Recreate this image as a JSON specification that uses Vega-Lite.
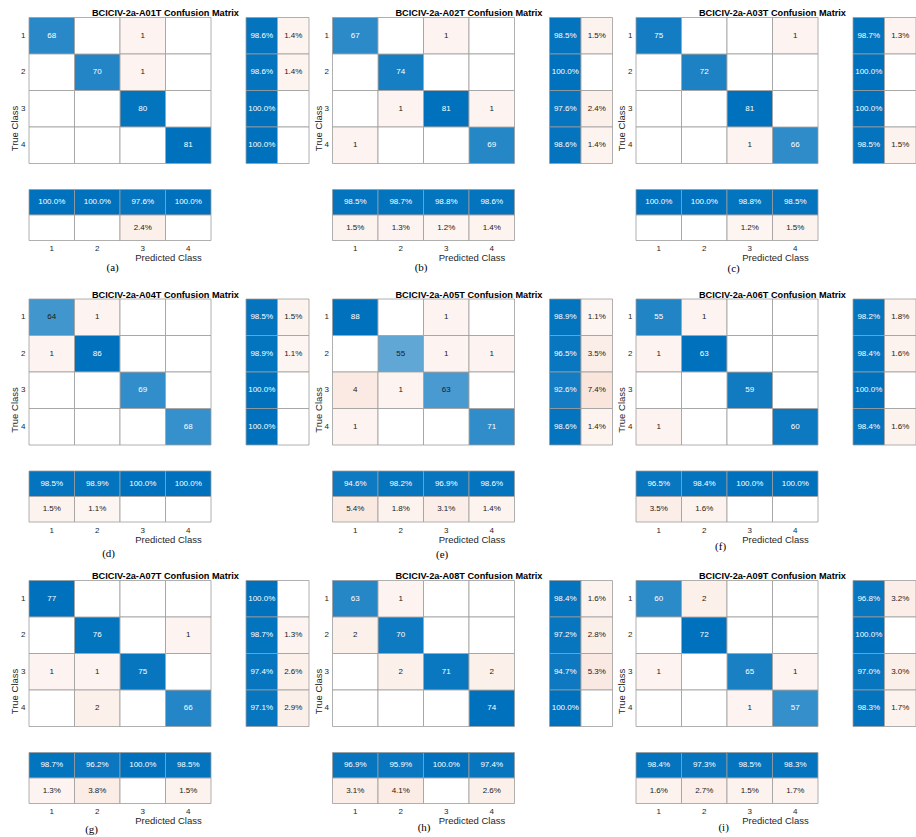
{
"$schema": "https://vega.github.io/schema/vega-lite/v6.json",
"padding": {"left": 9, "top": 8.5, "right": 0, "bottom": 0},
"background": "#ffffff",
"datasets": {
"cm": [
{"s":"A01T","t":1,"c":1,"n":68},{"s":"A01T","t":1,"c":2,"n":0},{"s":"A01T","t":1,"c":3,"n":1},{"s":"A01T","t":1,"c":4,"n":0},
{"s":"A01T","t":2,"c":1,"n":0},{"s":"A01T","t":2,"c":2,"n":70},{"s":"A01T","t":2,"c":3,"n":1},{"s":"A01T","t":2,"c":4,"n":0},
{"s":"A01T","t":3,"c":1,"n":0},{"s":"A01T","t":3,"c":2,"n":0},{"s":"A01T","t":3,"c":3,"n":80},{"s":"A01T","t":3,"c":4,"n":0},
{"s":"A01T","t":4,"c":1,"n":0},{"s":"A01T","t":4,"c":2,"n":0},{"s":"A01T","t":4,"c":3,"n":0},{"s":"A01T","t":4,"c":4,"n":81},
{"s":"A02T","t":1,"c":1,"n":67},{"s":"A02T","t":1,"c":2,"n":0},{"s":"A02T","t":1,"c":3,"n":1},{"s":"A02T","t":1,"c":4,"n":0},
{"s":"A02T","t":2,"c":1,"n":0},{"s":"A02T","t":2,"c":2,"n":74},{"s":"A02T","t":2,"c":3,"n":0},{"s":"A02T","t":2,"c":4,"n":0},
{"s":"A02T","t":3,"c":1,"n":0},{"s":"A02T","t":3,"c":2,"n":1},{"s":"A02T","t":3,"c":3,"n":81},{"s":"A02T","t":3,"c":4,"n":1},
{"s":"A02T","t":4,"c":1,"n":1},{"s":"A02T","t":4,"c":2,"n":0},{"s":"A02T","t":4,"c":3,"n":0},{"s":"A02T","t":4,"c":4,"n":69},
{"s":"A03T","t":1,"c":1,"n":75},{"s":"A03T","t":1,"c":2,"n":0},{"s":"A03T","t":1,"c":3,"n":0},{"s":"A03T","t":1,"c":4,"n":1},
{"s":"A03T","t":2,"c":1,"n":0},{"s":"A03T","t":2,"c":2,"n":72},{"s":"A03T","t":2,"c":3,"n":0},{"s":"A03T","t":2,"c":4,"n":0},
{"s":"A03T","t":3,"c":1,"n":0},{"s":"A03T","t":3,"c":2,"n":0},{"s":"A03T","t":3,"c":3,"n":81},{"s":"A03T","t":3,"c":4,"n":0},
{"s":"A03T","t":4,"c":1,"n":0},{"s":"A03T","t":4,"c":2,"n":0},{"s":"A03T","t":4,"c":3,"n":1},{"s":"A03T","t":4,"c":4,"n":66},
{"s":"A04T","t":1,"c":1,"n":64},{"s":"A04T","t":1,"c":2,"n":1},{"s":"A04T","t":1,"c":3,"n":0},{"s":"A04T","t":1,"c":4,"n":0},
{"s":"A04T","t":2,"c":1,"n":1},{"s":"A04T","t":2,"c":2,"n":86},{"s":"A04T","t":2,"c":3,"n":0},{"s":"A04T","t":2,"c":4,"n":0},
{"s":"A04T","t":3,"c":1,"n":0},{"s":"A04T","t":3,"c":2,"n":0},{"s":"A04T","t":3,"c":3,"n":69},{"s":"A04T","t":3,"c":4,"n":0},
{"s":"A04T","t":4,"c":1,"n":0},{"s":"A04T","t":4,"c":2,"n":0},{"s":"A04T","t":4,"c":3,"n":0},{"s":"A04T","t":4,"c":4,"n":68},
{"s":"A05T","t":1,"c":1,"n":88},{"s":"A05T","t":1,"c":2,"n":0},{"s":"A05T","t":1,"c":3,"n":1},{"s":"A05T","t":1,"c":4,"n":0},
{"s":"A05T","t":2,"c":1,"n":0},{"s":"A05T","t":2,"c":2,"n":55},{"s":"A05T","t":2,"c":3,"n":1},{"s":"A05T","t":2,"c":4,"n":1},
{"s":"A05T","t":3,"c":1,"n":4},{"s":"A05T","t":3,"c":2,"n":1},{"s":"A05T","t":3,"c":3,"n":63},{"s":"A05T","t":3,"c":4,"n":0},
{"s":"A05T","t":4,"c":1,"n":1},{"s":"A05T","t":4,"c":2,"n":0},{"s":"A05T","t":4,"c":3,"n":0},{"s":"A05T","t":4,"c":4,"n":71},
{"s":"A06T","t":1,"c":1,"n":55},{"s":"A06T","t":1,"c":2,"n":1},{"s":"A06T","t":1,"c":3,"n":0},{"s":"A06T","t":1,"c":4,"n":0},
{"s":"A06T","t":2,"c":1,"n":1},{"s":"A06T","t":2,"c":2,"n":63},{"s":"A06T","t":2,"c":3,"n":0},{"s":"A06T","t":2,"c":4,"n":0},
{"s":"A06T","t":3,"c":1,"n":0},{"s":"A06T","t":3,"c":2,"n":0},{"s":"A06T","t":3,"c":3,"n":59},{"s":"A06T","t":3,"c":4,"n":0},
{"s":"A06T","t":4,"c":1,"n":1},{"s":"A06T","t":4,"c":2,"n":0},{"s":"A06T","t":4,"c":3,"n":0},{"s":"A06T","t":4,"c":4,"n":60},
{"s":"A07T","t":1,"c":1,"n":77},{"s":"A07T","t":1,"c":2,"n":0},{"s":"A07T","t":1,"c":3,"n":0},{"s":"A07T","t":1,"c":4,"n":0},
{"s":"A07T","t":2,"c":1,"n":0},{"s":"A07T","t":2,"c":2,"n":76},{"s":"A07T","t":2,"c":3,"n":0},{"s":"A07T","t":2,"c":4,"n":1},
{"s":"A07T","t":3,"c":1,"n":1},{"s":"A07T","t":3,"c":2,"n":1},{"s":"A07T","t":3,"c":3,"n":75},{"s":"A07T","t":3,"c":4,"n":0},
{"s":"A07T","t":4,"c":1,"n":0},{"s":"A07T","t":4,"c":2,"n":2},{"s":"A07T","t":4,"c":3,"n":0},{"s":"A07T","t":4,"c":4,"n":66},
{"s":"A08T","t":1,"c":1,"n":63},{"s":"A08T","t":1,"c":2,"n":1},{"s":"A08T","t":1,"c":3,"n":0},{"s":"A08T","t":1,"c":4,"n":0},
{"s":"A08T","t":2,"c":1,"n":2},{"s":"A08T","t":2,"c":2,"n":70},{"s":"A08T","t":2,"c":3,"n":0},{"s":"A08T","t":2,"c":4,"n":0},
{"s":"A08T","t":3,"c":1,"n":0},{"s":"A08T","t":3,"c":2,"n":2},{"s":"A08T","t":3,"c":3,"n":71},{"s":"A08T","t":3,"c":4,"n":2},
{"s":"A08T","t":4,"c":1,"n":0},{"s":"A08T","t":4,"c":2,"n":0},{"s":"A08T","t":4,"c":3,"n":0},{"s":"A08T","t":4,"c":4,"n":74},
{"s":"A09T","t":1,"c":1,"n":60},{"s":"A09T","t":1,"c":2,"n":2},{"s":"A09T","t":1,"c":3,"n":0},{"s":"A09T","t":1,"c":4,"n":0},
{"s":"A09T","t":2,"c":1,"n":0},{"s":"A09T","t":2,"c":2,"n":72},{"s":"A09T","t":2,"c":3,"n":0},{"s":"A09T","t":2,"c":4,"n":0},
{"s":"A09T","t":3,"c":1,"n":1},{"s":"A09T","t":3,"c":2,"n":0},{"s":"A09T","t":3,"c":3,"n":65},{"s":"A09T","t":3,"c":4,"n":1},
{"s":"A09T","t":4,"c":1,"n":0},{"s":"A09T","t":4,"c":2,"n":0},{"s":"A09T","t":4,"c":3,"n":1},{"s":"A09T","t":4,"c":4,"n":57}
],
"sm": [
{"s":"A01T","k":"R","c":1,"m":"ok","v":0.986},{"s":"A01T","k":"R","c":1,"m":"err","v":0.014},
{"s":"A01T","k":"R","c":2,"m":"ok","v":0.986},{"s":"A01T","k":"R","c":2,"m":"err","v":0.014},
{"s":"A01T","k":"R","c":3,"m":"ok","v":1.0},{"s":"A01T","k":"R","c":3,"m":"err","v":0},
{"s":"A01T","k":"R","c":4,"m":"ok","v":1.0},{"s":"A01T","k":"R","c":4,"m":"err","v":0},
{"s":"A01T","k":"C","c":1,"m":"ok","v":1.0},{"s":"A01T","k":"C","c":1,"m":"err","v":0},
{"s":"A01T","k":"C","c":2,"m":"ok","v":1.0},{"s":"A01T","k":"C","c":2,"m":"err","v":0},
{"s":"A01T","k":"C","c":3,"m":"ok","v":0.976},{"s":"A01T","k":"C","c":3,"m":"err","v":0.024},
{"s":"A01T","k":"C","c":4,"m":"ok","v":1.0},{"s":"A01T","k":"C","c":4,"m":"err","v":0},
{"s":"A02T","k":"R","c":1,"m":"ok","v":0.985},{"s":"A02T","k":"R","c":1,"m":"err","v":0.015},
{"s":"A02T","k":"R","c":2,"m":"ok","v":1.0},{"s":"A02T","k":"R","c":2,"m":"err","v":0},
{"s":"A02T","k":"R","c":3,"m":"ok","v":0.976},{"s":"A02T","k":"R","c":3,"m":"err","v":0.024},
{"s":"A02T","k":"R","c":4,"m":"ok","v":0.986},{"s":"A02T","k":"R","c":4,"m":"err","v":0.014},
{"s":"A02T","k":"C","c":1,"m":"ok","v":0.985},{"s":"A02T","k":"C","c":1,"m":"err","v":0.015},
{"s":"A02T","k":"C","c":2,"m":"ok","v":0.987},{"s":"A02T","k":"C","c":2,"m":"err","v":0.013},
{"s":"A02T","k":"C","c":3,"m":"ok","v":0.988},{"s":"A02T","k":"C","c":3,"m":"err","v":0.012},
{"s":"A02T","k":"C","c":4,"m":"ok","v":0.986},{"s":"A02T","k":"C","c":4,"m":"err","v":0.014},
{"s":"A03T","k":"R","c":1,"m":"ok","v":0.987},{"s":"A03T","k":"R","c":1,"m":"err","v":0.013},
{"s":"A03T","k":"R","c":2,"m":"ok","v":1.0},{"s":"A03T","k":"R","c":2,"m":"err","v":0},
{"s":"A03T","k":"R","c":3,"m":"ok","v":1.0},{"s":"A03T","k":"R","c":3,"m":"err","v":0},
{"s":"A03T","k":"R","c":4,"m":"ok","v":0.985},{"s":"A03T","k":"R","c":4,"m":"err","v":0.015},
{"s":"A03T","k":"C","c":1,"m":"ok","v":1.0},{"s":"A03T","k":"C","c":1,"m":"err","v":0},
{"s":"A03T","k":"C","c":2,"m":"ok","v":1.0},{"s":"A03T","k":"C","c":2,"m":"err","v":0},
{"s":"A03T","k":"C","c":3,"m":"ok","v":0.988},{"s":"A03T","k":"C","c":3,"m":"err","v":0.012},
{"s":"A03T","k":"C","c":4,"m":"ok","v":0.985},{"s":"A03T","k":"C","c":4,"m":"err","v":0.015},
{"s":"A04T","k":"R","c":1,"m":"ok","v":0.985},{"s":"A04T","k":"R","c":1,"m":"err","v":0.015},
{"s":"A04T","k":"R","c":2,"m":"ok","v":0.989},{"s":"A04T","k":"R","c":2,"m":"err","v":0.011},
{"s":"A04T","k":"R","c":3,"m":"ok","v":1.0},{"s":"A04T","k":"R","c":3,"m":"err","v":0},
{"s":"A04T","k":"R","c":4,"m":"ok","v":1.0},{"s":"A04T","k":"R","c":4,"m":"err","v":0},
{"s":"A04T","k":"C","c":1,"m":"ok","v":0.985},{"s":"A04T","k":"C","c":1,"m":"err","v":0.015},
{"s":"A04T","k":"C","c":2,"m":"ok","v":0.989},{"s":"A04T","k":"C","c":2,"m":"err","v":0.011},
{"s":"A04T","k":"C","c":3,"m":"ok","v":1.0},{"s":"A04T","k":"C","c":3,"m":"err","v":0},
{"s":"A04T","k":"C","c":4,"m":"ok","v":1.0},{"s":"A04T","k":"C","c":4,"m":"err","v":0},
{"s":"A05T","k":"R","c":1,"m":"ok","v":0.989},{"s":"A05T","k":"R","c":1,"m":"err","v":0.011},
{"s":"A05T","k":"R","c":2,"m":"ok","v":0.965},{"s":"A05T","k":"R","c":2,"m":"err","v":0.035},
{"s":"A05T","k":"R","c":3,"m":"ok","v":0.926},{"s":"A05T","k":"R","c":3,"m":"err","v":0.074},
{"s":"A05T","k":"R","c":4,"m":"ok","v":0.986},{"s":"A05T","k":"R","c":4,"m":"err","v":0.014},
{"s":"A05T","k":"C","c":1,"m":"ok","v":0.946},{"s":"A05T","k":"C","c":1,"m":"err","v":0.054},
{"s":"A05T","k":"C","c":2,"m":"ok","v":0.982},{"s":"A05T","k":"C","c":2,"m":"err","v":0.018},
{"s":"A05T","k":"C","c":3,"m":"ok","v":0.969},{"s":"A05T","k":"C","c":3,"m":"err","v":0.031},
{"s":"A05T","k":"C","c":4,"m":"ok","v":0.986},{"s":"A05T","k":"C","c":4,"m":"err","v":0.014},
{"s":"A06T","k":"R","c":1,"m":"ok","v":0.982},{"s":"A06T","k":"R","c":1,"m":"err","v":0.018},
{"s":"A06T","k":"R","c":2,"m":"ok","v":0.984},{"s":"A06T","k":"R","c":2,"m":"err","v":0.016},
{"s":"A06T","k":"R","c":3,"m":"ok","v":1.0},{"s":"A06T","k":"R","c":3,"m":"err","v":0},
{"s":"A06T","k":"R","c":4,"m":"ok","v":0.984},{"s":"A06T","k":"R","c":4,"m":"err","v":0.016},
{"s":"A06T","k":"C","c":1,"m":"ok","v":0.965},{"s":"A06T","k":"C","c":1,"m":"err","v":0.035},
{"s":"A06T","k":"C","c":2,"m":"ok","v":0.984},{"s":"A06T","k":"C","c":2,"m":"err","v":0.016},
{"s":"A06T","k":"C","c":3,"m":"ok","v":1.0},{"s":"A06T","k":"C","c":3,"m":"err","v":0},
{"s":"A06T","k":"C","c":4,"m":"ok","v":1.0},{"s":"A06T","k":"C","c":4,"m":"err","v":0},
{"s":"A07T","k":"R","c":1,"m":"ok","v":1.0},{"s":"A07T","k":"R","c":1,"m":"err","v":0},
{"s":"A07T","k":"R","c":2,"m":"ok","v":0.987},{"s":"A07T","k":"R","c":2,"m":"err","v":0.013},
{"s":"A07T","k":"R","c":3,"m":"ok","v":0.974},{"s":"A07T","k":"R","c":3,"m":"err","v":0.026},
{"s":"A07T","k":"R","c":4,"m":"ok","v":0.971},{"s":"A07T","k":"R","c":4,"m":"err","v":0.029},
{"s":"A07T","k":"C","c":1,"m":"ok","v":0.987},{"s":"A07T","k":"C","c":1,"m":"err","v":0.013},
{"s":"A07T","k":"C","c":2,"m":"ok","v":0.962},{"s":"A07T","k":"C","c":2,"m":"err","v":0.038},
{"s":"A07T","k":"C","c":3,"m":"ok","v":1.0},{"s":"A07T","k":"C","c":3,"m":"err","v":0},
{"s":"A07T","k":"C","c":4,"m":"ok","v":0.985},{"s":"A07T","k":"C","c":4,"m":"err","v":0.015},
{"s":"A08T","k":"R","c":1,"m":"ok","v":0.984},{"s":"A08T","k":"R","c":1,"m":"err","v":0.016},
{"s":"A08T","k":"R","c":2,"m":"ok","v":0.972},{"s":"A08T","k":"R","c":2,"m":"err","v":0.028},
{"s":"A08T","k":"R","c":3,"m":"ok","v":0.947},{"s":"A08T","k":"R","c":3,"m":"err","v":0.053},
{"s":"A08T","k":"R","c":4,"m":"ok","v":1.0},{"s":"A08T","k":"R","c":4,"m":"err","v":0},
{"s":"A08T","k":"C","c":1,"m":"ok","v":0.969},{"s":"A08T","k":"C","c":1,"m":"err","v":0.031},
{"s":"A08T","k":"C","c":2,"m":"ok","v":0.959},{"s":"A08T","k":"C","c":2,"m":"err","v":0.041},
{"s":"A08T","k":"C","c":3,"m":"ok","v":1.0},{"s":"A08T","k":"C","c":3,"m":"err","v":0},
{"s":"A08T","k":"C","c":4,"m":"ok","v":0.974},{"s":"A08T","k":"C","c":4,"m":"err","v":0.026},
{"s":"A09T","k":"R","c":1,"m":"ok","v":0.968},{"s":"A09T","k":"R","c":1,"m":"err","v":0.032},
{"s":"A09T","k":"R","c":2,"m":"ok","v":1.0},{"s":"A09T","k":"R","c":2,"m":"err","v":0},
{"s":"A09T","k":"R","c":3,"m":"ok","v":0.97},{"s":"A09T","k":"R","c":3,"m":"err","v":0.03},
{"s":"A09T","k":"R","c":4,"m":"ok","v":0.983},{"s":"A09T","k":"R","c":4,"m":"err","v":0.017},
{"s":"A09T","k":"C","c":1,"m":"ok","v":0.984},{"s":"A09T","k":"C","c":1,"m":"err","v":0.016},
{"s":"A09T","k":"C","c":2,"m":"ok","v":0.973},{"s":"A09T","k":"C","c":2,"m":"err","v":0.027},
{"s":"A09T","k":"C","c":3,"m":"ok","v":0.985},{"s":"A09T","k":"C","c":3,"m":"err","v":0.015},
{"s":"A09T","k":"C","c":4,"m":"ok","v":0.983},{"s":"A09T","k":"C","c":4,"m":"err","v":0.017}
]
},
"columns": 3,
"align": "all",
"spacing": {"row": 11.5, "column": 2.5},
"resolve": {"scale": {"color": "independent"}},
"concat": [
{"title":{"text":"BCICIV-2a-A01T Confusion Matrix"},"spacing":33,"resolve":{"scale":{"color":"independent"}},
 "hconcat":[
  {"spacing":24,"resolve":{"scale":{"color":"independent"}},"vconcat":[
   {"width":182,"height":146,"data":{"name":"cm"},"transform":[{"filter":"datum.s=='A01T'"},{"joinaggregate":[{"op":"max","field":"n","as":"mx"}]}],
    "encoding":{"x":{"field":"c","type":"ordinal","axis":null},"y":{"field":"t","type":"ordinal","axis":{"title":"True Class","titleY":110.5}}},
    "layer":[
     {"transform":[{"filter":"datum.t==datum.c"}],"mark":"rect","encoding":{"color":{"field":"n","type":"quantitative","scale":{"zero":true,"nice":false,"range":["#ffffff","#0072bd"],"interpolate":"rgb"},"legend":null}}},
     {"transform":[{"filter":"datum.t!=datum.c"}],"mark":"rect","encoding":{"color":{"field":"n","type":"quantitative","scale":{"type":"sqrt","domain":[0,80],"clamp":true,"range":["#ffffff","#eaa080"],"interpolate":"rgb"},"legend":null}}},
     {"transform":[{"filter":"datum.n>0"}],"mark":"text","encoding":{"text":{"field":"n","type":"quantitative"},"color":{"condition":{"test":"datum.t==datum.c && datum.n>0.77*datum.mx","value":"#ffffff"},"value":"#1a1a1a"}}}
    ],"resolve":{"scale":{"color":"independent"}}},
   {"width":182,"height":51,"data":{"name":"sm"},"transform":[{"filter":"datum.s=='A01T' && datum.k=='C'"}],
    "title":{"text":"(a)","orient":"bottom","anchor":"start","align":"center","dx":84,"dy":2,"font":"Liberation Serif","fontSize":11,"fontWeight":"normal","offset":-2},
    "encoding":{"x":{"field":"c","type":"ordinal","axis":{"title":"Predicted Class","titleX":139}},"y":{"field":"m","type":"nominal","sort":["ok","err"],"axis":null}},
    "layer":[
     {"transform":[{"filter":"datum.m=='ok'"}],"mark":"rect","encoding":{"color":{"field":"v","type":"quantitative","scale":{"domain":[0,1],"range":["#ffffff","#0072bd"],"interpolate":"rgb"},"legend":null}}},
     {"transform":[{"filter":"datum.m=='err'"}],"mark":"rect","encoding":{"color":{"field":"v","type":"quantitative","scale":{"type":"sqrt","domain":[0,1],"range":["#ffffff","#eaa080"],"interpolate":"rgb"},"legend":null}}},
     {"transform":[{"filter":"datum.v>0"}],"mark":"text","encoding":{"text":{"field":"v","type":"quantitative","format":".1%"},"color":{"condition":{"test":"datum.m=='ok'","value":"#ffffff"},"value":"#1a1a1a"}}}
    ],"resolve":{"scale":{"color":"independent"}}}
  ]},
  {"width":63,"height":146,"data":{"name":"sm"},"transform":[{"filter":"datum.s=='A01T' && datum.k=='R'"}],
   "encoding":{"x":{"field":"m","type":"nominal","sort":["ok","err"],"axis":null},"y":{"field":"c","type":"ordinal","axis":null}},
   "layer":[
    {"transform":[{"filter":"datum.m=='ok'"}],"mark":"rect","encoding":{"color":{"field":"v","type":"quantitative","scale":{"domain":[0,1],"range":["#ffffff","#0072bd"],"interpolate":"rgb"},"legend":null}}},
    {"transform":[{"filter":"datum.m=='err'"}],"mark":"rect","encoding":{"color":{"field":"v","type":"quantitative","scale":{"type":"sqrt","domain":[0,1],"range":["#ffffff","#eaa080"],"interpolate":"rgb"},"legend":null}}},
    {"transform":[{"filter":"datum.v>0"}],"mark":"text","encoding":{"text":{"field":"v","type":"quantitative","format":".1%"},"color":{"condition":{"test":"datum.m=='ok'","value":"#ffffff"},"value":"#1a1a1a"}}}
   ],"resolve":{"scale":{"color":"independent"}}}
 ]},
{"title":{"text":"BCICIV-2a-A02T Confusion Matrix"},"spacing":33,"resolve":{"scale":{"color":"independent"}},
 "hconcat":[
  {"spacing":24,"resolve":{"scale":{"color":"independent"}},"vconcat":[
   {"width":182,"height":146,"data":{"name":"cm"},"transform":[{"filter":"datum.s=='A02T'"},{"joinaggregate":[{"op":"max","field":"n","as":"mx"}]}],
    "encoding":{"x":{"field":"c","type":"ordinal","axis":null},"y":{"field":"t","type":"ordinal","axis":{"title":"True Class","titleY":110.5}}},
    "layer":[
     {"transform":[{"filter":"datum.t==datum.c"}],"mark":"rect","encoding":{"color":{"field":"n","type":"quantitative","scale":{"zero":true,"nice":false,"range":["#ffffff","#0072bd"],"interpolate":"rgb"},"legend":null}}},
     {"transform":[{"filter":"datum.t!=datum.c"}],"mark":"rect","encoding":{"color":{"field":"n","type":"quantitative","scale":{"type":"sqrt","domain":[0,80],"clamp":true,"range":["#ffffff","#eaa080"],"interpolate":"rgb"},"legend":null}}},
     {"transform":[{"filter":"datum.n>0"}],"mark":"text","encoding":{"text":{"field":"n","type":"quantitative"},"color":{"condition":{"test":"datum.t==datum.c && datum.n>0.77*datum.mx","value":"#ffffff"},"value":"#1a1a1a"}}}
    ],"resolve":{"scale":{"color":"independent"}}},
   {"width":182,"height":51,"data":{"name":"sm"},"transform":[{"filter":"datum.s=='A02T' && datum.k=='C'"}],
    "title":{"text":"(b)","orient":"bottom","anchor":"start","align":"center","dx":89,"dy":2.4,"font":"Liberation Serif","fontSize":11,"fontWeight":"normal","offset":-2},
    "encoding":{"x":{"field":"c","type":"ordinal","axis":{"title":"Predicted Class","titleX":139}},"y":{"field":"m","type":"nominal","sort":["ok","err"],"axis":null}},
    "layer":[
     {"transform":[{"filter":"datum.m=='ok'"}],"mark":"rect","encoding":{"color":{"field":"v","type":"quantitative","scale":{"domain":[0,1],"range":["#ffffff","#0072bd"],"interpolate":"rgb"},"legend":null}}},
     {"transform":[{"filter":"datum.m=='err'"}],"mark":"rect","encoding":{"color":{"field":"v","type":"quantitative","scale":{"type":"sqrt","domain":[0,1],"range":["#ffffff","#eaa080"],"interpolate":"rgb"},"legend":null}}},
     {"transform":[{"filter":"datum.v>0"}],"mark":"text","encoding":{"text":{"field":"v","type":"quantitative","format":".1%"},"color":{"condition":{"test":"datum.m=='ok'","value":"#ffffff"},"value":"#1a1a1a"}}}
    ],"resolve":{"scale":{"color":"independent"}}}
  ]},
  {"width":63,"height":146,"data":{"name":"sm"},"transform":[{"filter":"datum.s=='A02T' && datum.k=='R'"}],
   "encoding":{"x":{"field":"m","type":"nominal","sort":["ok","err"],"axis":null},"y":{"field":"c","type":"ordinal","axis":null}},
   "layer":[
    {"transform":[{"filter":"datum.m=='ok'"}],"mark":"rect","encoding":{"color":{"field":"v","type":"quantitative","scale":{"domain":[0,1],"range":["#ffffff","#0072bd"],"interpolate":"rgb"},"legend":null}}},
    {"transform":[{"filter":"datum.m=='err'"}],"mark":"rect","encoding":{"color":{"field":"v","type":"quantitative","scale":{"type":"sqrt","domain":[0,1],"range":["#ffffff","#eaa080"],"interpolate":"rgb"},"legend":null}}},
    {"transform":[{"filter":"datum.v>0"}],"mark":"text","encoding":{"text":{"field":"v","type":"quantitative","format":".1%"},"color":{"condition":{"test":"datum.m=='ok'","value":"#ffffff"},"value":"#1a1a1a"}}}
   ],"resolve":{"scale":{"color":"independent"}}}
 ]},
{"title":{"text":"BCICIV-2a-A03T Confusion Matrix"},"spacing":33,"resolve":{"scale":{"color":"independent"}},
 "hconcat":[
  {"spacing":24,"resolve":{"scale":{"color":"independent"}},"vconcat":[
   {"width":182,"height":146,"data":{"name":"cm"},"transform":[{"filter":"datum.s=='A03T'"},{"joinaggregate":[{"op":"max","field":"n","as":"mx"}]}],
    "encoding":{"x":{"field":"c","type":"ordinal","axis":null},"y":{"field":"t","type":"ordinal","axis":{"title":"True Class","titleY":110.5}}},
    "layer":[
     {"transform":[{"filter":"datum.t==datum.c"}],"mark":"rect","encoding":{"color":{"field":"n","type":"quantitative","scale":{"zero":true,"nice":false,"range":["#ffffff","#0072bd"],"interpolate":"rgb"},"legend":null}}},
     {"transform":[{"filter":"datum.t!=datum.c"}],"mark":"rect","encoding":{"color":{"field":"n","type":"quantitative","scale":{"type":"sqrt","domain":[0,80],"clamp":true,"range":["#ffffff","#eaa080"],"interpolate":"rgb"},"legend":null}}},
     {"transform":[{"filter":"datum.n>0"}],"mark":"text","encoding":{"text":{"field":"n","type":"quantitative"},"color":{"condition":{"test":"datum.t==datum.c && datum.n>0.77*datum.mx","value":"#ffffff"},"value":"#1a1a1a"}}}
    ],"resolve":{"scale":{"color":"independent"}}},
   {"width":182,"height":51,"data":{"name":"sm"},"transform":[{"filter":"datum.s=='A03T' && datum.k=='C'"}],
    "title":{"text":"(c)","orient":"bottom","anchor":"start","align":"center","dx":98,"dy":2.7,"font":"Liberation Serif","fontSize":11,"fontWeight":"normal","offset":-2},
    "encoding":{"x":{"field":"c","type":"ordinal","axis":{"title":"Predicted Class","titleX":139}},"y":{"field":"m","type":"nominal","sort":["ok","err"],"axis":null}},
    "layer":[
     {"transform":[{"filter":"datum.m=='ok'"}],"mark":"rect","encoding":{"color":{"field":"v","type":"quantitative","scale":{"domain":[0,1],"range":["#ffffff","#0072bd"],"interpolate":"rgb"},"legend":null}}},
     {"transform":[{"filter":"datum.m=='err'"}],"mark":"rect","encoding":{"color":{"field":"v","type":"quantitative","scale":{"type":"sqrt","domain":[0,1],"range":["#ffffff","#eaa080"],"interpolate":"rgb"},"legend":null}}},
     {"transform":[{"filter":"datum.v>0"}],"mark":"text","encoding":{"text":{"field":"v","type":"quantitative","format":".1%"},"color":{"condition":{"test":"datum.m=='ok'","value":"#ffffff"},"value":"#1a1a1a"}}}
    ],"resolve":{"scale":{"color":"independent"}}}
  ]},
  {"width":63,"height":146,"data":{"name":"sm"},"transform":[{"filter":"datum.s=='A03T' && datum.k=='R'"}],
   "encoding":{"x":{"field":"m","type":"nominal","sort":["ok","err"],"axis":null},"y":{"field":"c","type":"ordinal","axis":null}},
   "layer":[
    {"transform":[{"filter":"datum.m=='ok'"}],"mark":"rect","encoding":{"color":{"field":"v","type":"quantitative","scale":{"domain":[0,1],"range":["#ffffff","#0072bd"],"interpolate":"rgb"},"legend":null}}},
    {"transform":[{"filter":"datum.m=='err'"}],"mark":"rect","encoding":{"color":{"field":"v","type":"quantitative","scale":{"type":"sqrt","domain":[0,1],"range":["#ffffff","#eaa080"],"interpolate":"rgb"},"legend":null}}},
    {"transform":[{"filter":"datum.v>0"}],"mark":"text","encoding":{"text":{"field":"v","type":"quantitative","format":".1%"},"color":{"condition":{"test":"datum.m=='ok'","value":"#ffffff"},"value":"#1a1a1a"}}}
   ],"resolve":{"scale":{"color":"independent"}}}
 ]},
{"title":{"text":"BCICIV-2a-A04T Confusion Matrix"},"spacing":33,"resolve":{"scale":{"color":"independent"}},
 "hconcat":[
  {"spacing":24,"resolve":{"scale":{"color":"independent"}},"vconcat":[
   {"width":182,"height":146,"data":{"name":"cm"},"transform":[{"filter":"datum.s=='A04T'"},{"joinaggregate":[{"op":"max","field":"n","as":"mx"}]}],
    "encoding":{"x":{"field":"c","type":"ordinal","axis":null},"y":{"field":"t","type":"ordinal","axis":{"title":"True Class","titleY":110.5}}},
    "layer":[
     {"transform":[{"filter":"datum.t==datum.c"}],"mark":"rect","encoding":{"color":{"field":"n","type":"quantitative","scale":{"zero":true,"nice":false,"range":["#ffffff","#0072bd"],"interpolate":"rgb"},"legend":null}}},
     {"transform":[{"filter":"datum.t!=datum.c"}],"mark":"rect","encoding":{"color":{"field":"n","type":"quantitative","scale":{"type":"sqrt","domain":[0,80],"clamp":true,"range":["#ffffff","#eaa080"],"interpolate":"rgb"},"legend":null}}},
     {"transform":[{"filter":"datum.n>0"}],"mark":"text","encoding":{"text":{"field":"n","type":"quantitative"},"color":{"condition":{"test":"datum.t==datum.c && datum.n>0.77*datum.mx","value":"#ffffff"},"value":"#1a1a1a"}}}
    ],"resolve":{"scale":{"color":"independent"}}},
   {"width":182,"height":51,"data":{"name":"sm"},"transform":[{"filter":"datum.s=='A04T' && datum.k=='C'"}],
    "title":{"text":"(d)","orient":"bottom","anchor":"start","align":"center","dx":80,"dy":6,"font":"Liberation Serif","fontSize":11,"fontWeight":"normal","offset":-2},
    "encoding":{"x":{"field":"c","type":"ordinal","axis":{"title":"Predicted Class","titleX":139}},"y":{"field":"m","type":"nominal","sort":["ok","err"],"axis":null}},
    "layer":[
     {"transform":[{"filter":"datum.m=='ok'"}],"mark":"rect","encoding":{"color":{"field":"v","type":"quantitative","scale":{"domain":[0,1],"range":["#ffffff","#0072bd"],"interpolate":"rgb"},"legend":null}}},
     {"transform":[{"filter":"datum.m=='err'"}],"mark":"rect","encoding":{"color":{"field":"v","type":"quantitative","scale":{"type":"sqrt","domain":[0,1],"range":["#ffffff","#eaa080"],"interpolate":"rgb"},"legend":null}}},
     {"transform":[{"filter":"datum.v>0"}],"mark":"text","encoding":{"text":{"field":"v","type":"quantitative","format":".1%"},"color":{"condition":{"test":"datum.m=='ok'","value":"#ffffff"},"value":"#1a1a1a"}}}
    ],"resolve":{"scale":{"color":"independent"}}}
  ]},
  {"width":63,"height":146,"data":{"name":"sm"},"transform":[{"filter":"datum.s=='A04T' && datum.k=='R'"}],
   "encoding":{"x":{"field":"m","type":"nominal","sort":["ok","err"],"axis":null},"y":{"field":"c","type":"ordinal","axis":null}},
   "layer":[
    {"transform":[{"filter":"datum.m=='ok'"}],"mark":"rect","encoding":{"color":{"field":"v","type":"quantitative","scale":{"domain":[0,1],"range":["#ffffff","#0072bd"],"interpolate":"rgb"},"legend":null}}},
    {"transform":[{"filter":"datum.m=='err'"}],"mark":"rect","encoding":{"color":{"field":"v","type":"quantitative","scale":{"type":"sqrt","domain":[0,1],"range":["#ffffff","#eaa080"],"interpolate":"rgb"},"legend":null}}},
    {"transform":[{"filter":"datum.v>0"}],"mark":"text","encoding":{"text":{"field":"v","type":"quantitative","format":".1%"},"color":{"condition":{"test":"datum.m=='ok'","value":"#ffffff"},"value":"#1a1a1a"}}}
   ],"resolve":{"scale":{"color":"independent"}}}
 ]},
{"title":{"text":"BCICIV-2a-A05T Confusion Matrix"},"spacing":33,"resolve":{"scale":{"color":"independent"}},
 "hconcat":[
  {"spacing":24,"resolve":{"scale":{"color":"independent"}},"vconcat":[
   {"width":182,"height":146,"data":{"name":"cm"},"transform":[{"filter":"datum.s=='A05T'"},{"joinaggregate":[{"op":"max","field":"n","as":"mx"}]}],
    "encoding":{"x":{"field":"c","type":"ordinal","axis":null},"y":{"field":"t","type":"ordinal","axis":{"title":"True Class","titleY":110.5}}},
    "layer":[
     {"transform":[{"filter":"datum.t==datum.c"}],"mark":"rect","encoding":{"color":{"field":"n","type":"quantitative","scale":{"zero":true,"nice":false,"range":["#ffffff","#0072bd"],"interpolate":"rgb"},"legend":null}}},
     {"transform":[{"filter":"datum.t!=datum.c"}],"mark":"rect","encoding":{"color":{"field":"n","type":"quantitative","scale":{"type":"sqrt","domain":[0,80],"clamp":true,"range":["#ffffff","#eaa080"],"interpolate":"rgb"},"legend":null}}},
     {"transform":[{"filter":"datum.n>0"}],"mark":"text","encoding":{"text":{"field":"n","type":"quantitative"},"color":{"condition":{"test":"datum.t==datum.c && datum.n>0.77*datum.mx","value":"#ffffff"},"value":"#1a1a1a"}}}
    ],"resolve":{"scale":{"color":"independent"}}},
   {"width":182,"height":51,"data":{"name":"sm"},"transform":[{"filter":"datum.s=='A05T' && datum.k=='C'"}],
    "title":{"text":"(e)","orient":"bottom","anchor":"start","align":"center","dx":110,"dy":7,"font":"Liberation Serif","fontSize":11,"fontWeight":"normal","offset":-2},
    "encoding":{"x":{"field":"c","type":"ordinal","axis":{"title":"Predicted Class","titleX":139}},"y":{"field":"m","type":"nominal","sort":["ok","err"],"axis":null}},
    "layer":[
     {"transform":[{"filter":"datum.m=='ok'"}],"mark":"rect","encoding":{"color":{"field":"v","type":"quantitative","scale":{"domain":[0,1],"range":["#ffffff","#0072bd"],"interpolate":"rgb"},"legend":null}}},
     {"transform":[{"filter":"datum.m=='err'"}],"mark":"rect","encoding":{"color":{"field":"v","type":"quantitative","scale":{"type":"sqrt","domain":[0,1],"range":["#ffffff","#eaa080"],"interpolate":"rgb"},"legend":null}}},
     {"transform":[{"filter":"datum.v>0"}],"mark":"text","encoding":{"text":{"field":"v","type":"quantitative","format":".1%"},"color":{"condition":{"test":"datum.m=='ok'","value":"#ffffff"},"value":"#1a1a1a"}}}
    ],"resolve":{"scale":{"color":"independent"}}}
  ]},
  {"width":63,"height":146,"data":{"name":"sm"},"transform":[{"filter":"datum.s=='A05T' && datum.k=='R'"}],
   "encoding":{"x":{"field":"m","type":"nominal","sort":["ok","err"],"axis":null},"y":{"field":"c","type":"ordinal","axis":null}},
   "layer":[
    {"transform":[{"filter":"datum.m=='ok'"}],"mark":"rect","encoding":{"color":{"field":"v","type":"quantitative","scale":{"domain":[0,1],"range":["#ffffff","#0072bd"],"interpolate":"rgb"},"legend":null}}},
    {"transform":[{"filter":"datum.m=='err'"}],"mark":"rect","encoding":{"color":{"field":"v","type":"quantitative","scale":{"type":"sqrt","domain":[0,1],"range":["#ffffff","#eaa080"],"interpolate":"rgb"},"legend":null}}},
    {"transform":[{"filter":"datum.v>0"}],"mark":"text","encoding":{"text":{"field":"v","type":"quantitative","format":".1%"},"color":{"condition":{"test":"datum.m=='ok'","value":"#ffffff"},"value":"#1a1a1a"}}}
   ],"resolve":{"scale":{"color":"independent"}}}
 ]},
{"title":{"text":"BCICIV-2a-A06T Confusion Matrix"},"spacing":33,"resolve":{"scale":{"color":"independent"}},
 "hconcat":[
  {"spacing":24,"resolve":{"scale":{"color":"independent"}},"vconcat":[
   {"width":182,"height":146,"data":{"name":"cm"},"transform":[{"filter":"datum.s=='A06T'"},{"joinaggregate":[{"op":"max","field":"n","as":"mx"}]}],
    "encoding":{"x":{"field":"c","type":"ordinal","axis":null},"y":{"field":"t","type":"ordinal","axis":{"title":"True Class","titleY":110.5}}},
    "layer":[
     {"transform":[{"filter":"datum.t==datum.c"}],"mark":"rect","encoding":{"color":{"field":"n","type":"quantitative","scale":{"zero":true,"nice":false,"range":["#ffffff","#0072bd"],"interpolate":"rgb"},"legend":null}}},
     {"transform":[{"filter":"datum.t!=datum.c"}],"mark":"rect","encoding":{"color":{"field":"n","type":"quantitative","scale":{"type":"sqrt","domain":[0,80],"clamp":true,"range":["#ffffff","#eaa080"],"interpolate":"rgb"},"legend":null}}},
     {"transform":[{"filter":"datum.n>0"}],"mark":"text","encoding":{"text":{"field":"n","type":"quantitative"},"color":{"condition":{"test":"datum.t==datum.c && datum.n>0.77*datum.mx","value":"#ffffff"},"value":"#1a1a1a"}}}
    ],"resolve":{"scale":{"color":"independent"}}},
   {"width":182,"height":51,"data":{"name":"sm"},"transform":[{"filter":"datum.s=='A06T' && datum.k=='C'"}],
    "title":{"text":"(f)","orient":"bottom","anchor":"start","align":"center","dx":85,"dy":-0.7,"font":"Liberation Serif","fontSize":11,"fontWeight":"normal","offset":-2},
    "encoding":{"x":{"field":"c","type":"ordinal","axis":{"title":"Predicted Class","titleX":139}},"y":{"field":"m","type":"nominal","sort":["ok","err"],"axis":null}},
    "layer":[
     {"transform":[{"filter":"datum.m=='ok'"}],"mark":"rect","encoding":{"color":{"field":"v","type":"quantitative","scale":{"domain":[0,1],"range":["#ffffff","#0072bd"],"interpolate":"rgb"},"legend":null}}},
     {"transform":[{"filter":"datum.m=='err'"}],"mark":"rect","encoding":{"color":{"field":"v","type":"quantitative","scale":{"type":"sqrt","domain":[0,1],"range":["#ffffff","#eaa080"],"interpolate":"rgb"},"legend":null}}},
     {"transform":[{"filter":"datum.v>0"}],"mark":"text","encoding":{"text":{"field":"v","type":"quantitative","format":".1%"},"color":{"condition":{"test":"datum.m=='ok'","value":"#ffffff"},"value":"#1a1a1a"}}}
    ],"resolve":{"scale":{"color":"independent"}}}
  ]},
  {"width":63,"height":146,"data":{"name":"sm"},"transform":[{"filter":"datum.s=='A06T' && datum.k=='R'"}],
   "encoding":{"x":{"field":"m","type":"nominal","sort":["ok","err"],"axis":null},"y":{"field":"c","type":"ordinal","axis":null}},
   "layer":[
    {"transform":[{"filter":"datum.m=='ok'"}],"mark":"rect","encoding":{"color":{"field":"v","type":"quantitative","scale":{"domain":[0,1],"range":["#ffffff","#0072bd"],"interpolate":"rgb"},"legend":null}}},
    {"transform":[{"filter":"datum.m=='err'"}],"mark":"rect","encoding":{"color":{"field":"v","type":"quantitative","scale":{"type":"sqrt","domain":[0,1],"range":["#ffffff","#eaa080"],"interpolate":"rgb"},"legend":null}}},
    {"transform":[{"filter":"datum.v>0"}],"mark":"text","encoding":{"text":{"field":"v","type":"quantitative","format":".1%"},"color":{"condition":{"test":"datum.m=='ok'","value":"#ffffff"},"value":"#1a1a1a"}}}
   ],"resolve":{"scale":{"color":"independent"}}}
 ]},
{"title":{"text":"BCICIV-2a-A07T Confusion Matrix"},"spacing":33,"resolve":{"scale":{"color":"independent"}},
 "hconcat":[
  {"spacing":24,"resolve":{"scale":{"color":"independent"}},"vconcat":[
   {"width":182,"height":146,"data":{"name":"cm"},"transform":[{"filter":"datum.s=='A07T'"},{"joinaggregate":[{"op":"max","field":"n","as":"mx"}]}],
    "encoding":{"x":{"field":"c","type":"ordinal","axis":null},"y":{"field":"t","type":"ordinal","axis":{"title":"True Class","titleY":110.5}}},
    "layer":[
     {"transform":[{"filter":"datum.t==datum.c"}],"mark":"rect","encoding":{"color":{"field":"n","type":"quantitative","scale":{"zero":true,"nice":false,"range":["#ffffff","#0072bd"],"interpolate":"rgb"},"legend":null}}},
     {"transform":[{"filter":"datum.t!=datum.c"}],"mark":"rect","encoding":{"color":{"field":"n","type":"quantitative","scale":{"type":"sqrt","domain":[0,80],"clamp":true,"range":["#ffffff","#eaa080"],"interpolate":"rgb"},"legend":null}}},
     {"transform":[{"filter":"datum.n>0"}],"mark":"text","encoding":{"text":{"field":"n","type":"quantitative"},"color":{"condition":{"test":"datum.t==datum.c && datum.n>0.77*datum.mx","value":"#ffffff"},"value":"#1a1a1a"}}}
    ],"resolve":{"scale":{"color":"independent"}}},
   {"width":182,"height":51,"data":{"name":"sm"},"transform":[{"filter":"datum.s=='A07T' && datum.k=='C'"}],
    "title":{"text":"(g)","orient":"bottom","anchor":"start","align":"center","dx":63,"dy":1.3,"font":"Liberation Serif","fontSize":11,"fontWeight":"normal","offset":-2},
    "encoding":{"x":{"field":"c","type":"ordinal","axis":{"title":"Predicted Class","titleX":139}},"y":{"field":"m","type":"nominal","sort":["ok","err"],"axis":null}},
    "layer":[
     {"transform":[{"filter":"datum.m=='ok'"}],"mark":"rect","encoding":{"color":{"field":"v","type":"quantitative","scale":{"domain":[0,1],"range":["#ffffff","#0072bd"],"interpolate":"rgb"},"legend":null}}},
     {"transform":[{"filter":"datum.m=='err'"}],"mark":"rect","encoding":{"color":{"field":"v","type":"quantitative","scale":{"type":"sqrt","domain":[0,1],"range":["#ffffff","#eaa080"],"interpolate":"rgb"},"legend":null}}},
     {"transform":[{"filter":"datum.v>0"}],"mark":"text","encoding":{"text":{"field":"v","type":"quantitative","format":".1%"},"color":{"condition":{"test":"datum.m=='ok'","value":"#ffffff"},"value":"#1a1a1a"}}}
    ],"resolve":{"scale":{"color":"independent"}}}
  ]},
  {"width":63,"height":146,"data":{"name":"sm"},"transform":[{"filter":"datum.s=='A07T' && datum.k=='R'"}],
   "encoding":{"x":{"field":"m","type":"nominal","sort":["ok","err"],"axis":null},"y":{"field":"c","type":"ordinal","axis":null}},
   "layer":[
    {"transform":[{"filter":"datum.m=='ok'"}],"mark":"rect","encoding":{"color":{"field":"v","type":"quantitative","scale":{"domain":[0,1],"range":["#ffffff","#0072bd"],"interpolate":"rgb"},"legend":null}}},
    {"transform":[{"filter":"datum.m=='err'"}],"mark":"rect","encoding":{"color":{"field":"v","type":"quantitative","scale":{"type":"sqrt","domain":[0,1],"range":["#ffffff","#eaa080"],"interpolate":"rgb"},"legend":null}}},
    {"transform":[{"filter":"datum.v>0"}],"mark":"text","encoding":{"text":{"field":"v","type":"quantitative","format":".1%"},"color":{"condition":{"test":"datum.m=='ok'","value":"#ffffff"},"value":"#1a1a1a"}}}
   ],"resolve":{"scale":{"color":"independent"}}}
 ]},
{"title":{"text":"BCICIV-2a-A08T Confusion Matrix"},"spacing":33,"resolve":{"scale":{"color":"independent"}},
 "hconcat":[
  {"spacing":24,"resolve":{"scale":{"color":"independent"}},"vconcat":[
   {"width":182,"height":146,"data":{"name":"cm"},"transform":[{"filter":"datum.s=='A08T'"},{"joinaggregate":[{"op":"max","field":"n","as":"mx"}]}],
    "encoding":{"x":{"field":"c","type":"ordinal","axis":null},"y":{"field":"t","type":"ordinal","axis":{"title":"True Class","titleY":110.5}}},
    "layer":[
     {"transform":[{"filter":"datum.t==datum.c"}],"mark":"rect","encoding":{"color":{"field":"n","type":"quantitative","scale":{"zero":true,"nice":false,"range":["#ffffff","#0072bd"],"interpolate":"rgb"},"legend":null}}},
     {"transform":[{"filter":"datum.t!=datum.c"}],"mark":"rect","encoding":{"color":{"field":"n","type":"quantitative","scale":{"type":"sqrt","domain":[0,80],"clamp":true,"range":["#ffffff","#eaa080"],"interpolate":"rgb"},"legend":null}}},
     {"transform":[{"filter":"datum.n>0"}],"mark":"text","encoding":{"text":{"field":"n","type":"quantitative"},"color":{"condition":{"test":"datum.t==datum.c && datum.n>0.77*datum.mx","value":"#ffffff"},"value":"#1a1a1a"}}}
    ],"resolve":{"scale":{"color":"independent"}}},
   {"width":182,"height":51,"data":{"name":"sm"},"transform":[{"filter":"datum.s=='A08T' && datum.k=='C'"}],
    "title":{"text":"(h)","orient":"bottom","anchor":"start","align":"center","dx":92,"dy":-0.7,"font":"Liberation Serif","fontSize":11,"fontWeight":"normal","offset":-2},
    "encoding":{"x":{"field":"c","type":"ordinal","axis":{"title":"Predicted Class","titleX":139}},"y":{"field":"m","type":"nominal","sort":["ok","err"],"axis":null}},
    "layer":[
     {"transform":[{"filter":"datum.m=='ok'"}],"mark":"rect","encoding":{"color":{"field":"v","type":"quantitative","scale":{"domain":[0,1],"range":["#ffffff","#0072bd"],"interpolate":"rgb"},"legend":null}}},
     {"transform":[{"filter":"datum.m=='err'"}],"mark":"rect","encoding":{"color":{"field":"v","type":"quantitative","scale":{"type":"sqrt","domain":[0,1],"range":["#ffffff","#eaa080"],"interpolate":"rgb"},"legend":null}}},
     {"transform":[{"filter":"datum.v>0"}],"mark":"text","encoding":{"text":{"field":"v","type":"quantitative","format":".1%"},"color":{"condition":{"test":"datum.m=='ok'","value":"#ffffff"},"value":"#1a1a1a"}}}
    ],"resolve":{"scale":{"color":"independent"}}}
  ]},
  {"width":63,"height":146,"data":{"name":"sm"},"transform":[{"filter":"datum.s=='A08T' && datum.k=='R'"}],
   "encoding":{"x":{"field":"m","type":"nominal","sort":["ok","err"],"axis":null},"y":{"field":"c","type":"ordinal","axis":null}},
   "layer":[
    {"transform":[{"filter":"datum.m=='ok'"}],"mark":"rect","encoding":{"color":{"field":"v","type":"quantitative","scale":{"domain":[0,1],"range":["#ffffff","#0072bd"],"interpolate":"rgb"},"legend":null}}},
    {"transform":[{"filter":"datum.m=='err'"}],"mark":"rect","encoding":{"color":{"field":"v","type":"quantitative","scale":{"type":"sqrt","domain":[0,1],"range":["#ffffff","#eaa080"],"interpolate":"rgb"},"legend":null}}},
    {"transform":[{"filter":"datum.v>0"}],"mark":"text","encoding":{"text":{"field":"v","type":"quantitative","format":".1%"},"color":{"condition":{"test":"datum.m=='ok'","value":"#ffffff"},"value":"#1a1a1a"}}}
   ],"resolve":{"scale":{"color":"independent"}}}
 ]},
{"title":{"text":"BCICIV-2a-A09T Confusion Matrix"},"spacing":33,"resolve":{"scale":{"color":"independent"}},
 "hconcat":[
  {"spacing":24,"resolve":{"scale":{"color":"independent"}},"vconcat":[
   {"width":182,"height":146,"data":{"name":"cm"},"transform":[{"filter":"datum.s=='A09T'"},{"joinaggregate":[{"op":"max","field":"n","as":"mx"}]}],
    "encoding":{"x":{"field":"c","type":"ordinal","axis":null},"y":{"field":"t","type":"ordinal","axis":{"title":"True Class","titleY":110.5}}},
    "layer":[
     {"transform":[{"filter":"datum.t==datum.c"}],"mark":"rect","encoding":{"color":{"field":"n","type":"quantitative","scale":{"zero":true,"nice":false,"range":["#ffffff","#0072bd"],"interpolate":"rgb"},"legend":null}}},
     {"transform":[{"filter":"datum.t!=datum.c"}],"mark":"rect","encoding":{"color":{"field":"n","type":"quantitative","scale":{"type":"sqrt","domain":[0,80],"clamp":true,"range":["#ffffff","#eaa080"],"interpolate":"rgb"},"legend":null}}},
     {"transform":[{"filter":"datum.n>0"}],"mark":"text","encoding":{"text":{"field":"n","type":"quantitative"},"color":{"condition":{"test":"datum.t==datum.c && datum.n>0.77*datum.mx","value":"#ffffff"},"value":"#1a1a1a"}}}
    ],"resolve":{"scale":{"color":"independent"}}},
   {"width":182,"height":51,"data":{"name":"sm"},"transform":[{"filter":"datum.s=='A09T' && datum.k=='C'"}],
    "title":{"text":"(i)","orient":"bottom","anchor":"start","align":"center","dx":88,"dy":-1,"font":"Liberation Serif","fontSize":11,"fontWeight":"normal","offset":-2},
    "encoding":{"x":{"field":"c","type":"ordinal","axis":{"title":"Predicted Class","titleX":139}},"y":{"field":"m","type":"nominal","sort":["ok","err"],"axis":null}},
    "layer":[
     {"transform":[{"filter":"datum.m=='ok'"}],"mark":"rect","encoding":{"color":{"field":"v","type":"quantitative","scale":{"domain":[0,1],"range":["#ffffff","#0072bd"],"interpolate":"rgb"},"legend":null}}},
     {"transform":[{"filter":"datum.m=='err'"}],"mark":"rect","encoding":{"color":{"field":"v","type":"quantitative","scale":{"type":"sqrt","domain":[0,1],"range":["#ffffff","#eaa080"],"interpolate":"rgb"},"legend":null}}},
     {"transform":[{"filter":"datum.v>0"}],"mark":"text","encoding":{"text":{"field":"v","type":"quantitative","format":".1%"},"color":{"condition":{"test":"datum.m=='ok'","value":"#ffffff"},"value":"#1a1a1a"}}}
    ],"resolve":{"scale":{"color":"independent"}}}
  ]},
  {"width":63,"height":146,"data":{"name":"sm"},"transform":[{"filter":"datum.s=='A09T' && datum.k=='R'"}],
   "encoding":{"x":{"field":"m","type":"nominal","sort":["ok","err"],"axis":null},"y":{"field":"c","type":"ordinal","axis":null}},
   "layer":[
    {"transform":[{"filter":"datum.m=='ok'"}],"mark":"rect","encoding":{"color":{"field":"v","type":"quantitative","scale":{"domain":[0,1],"range":["#ffffff","#0072bd"],"interpolate":"rgb"},"legend":null}}},
    {"transform":[{"filter":"datum.m=='err'"}],"mark":"rect","encoding":{"color":{"field":"v","type":"quantitative","scale":{"type":"sqrt","domain":[0,1],"range":["#ffffff","#eaa080"],"interpolate":"rgb"},"legend":null}}},
    {"transform":[{"filter":"datum.v>0"}],"mark":"text","encoding":{"text":{"field":"v","type":"quantitative","format":".1%"},"color":{"condition":{"test":"datum.m=='ok'","value":"#ffffff"},"value":"#1a1a1a"}}}
   ],"resolve":{"scale":{"color":"independent"}}}
 ]}
],
"config": {
 "font": "Liberation Sans",
 "view": {"stroke": null},
 "rect": {"stroke": "#9c9c9c", "strokeWidth": 0.8},
 "text": {"fontSize": 8},
 "axis": {"domain": false, "ticks": false, "grid": false, "labelFontSize": 8, "labelColor": "#262626", "titleFontSize": 9.5, "titleFontWeight": "normal", "titleColor": "#262626", "titlePadding": 3},
 "axisX": {"labelPadding": 4, "labelAngle": 0, "titlePadding": 0},
 "axisY": {"labelPadding": 4, "labelAngle": 0, "titlePadding": 1},
 "title": {"fontSize": 9.2, "fontWeight": "bold", "color": "#000000", "offset": -1.5, "anchor": "middle", "dx": 6}
}
}
